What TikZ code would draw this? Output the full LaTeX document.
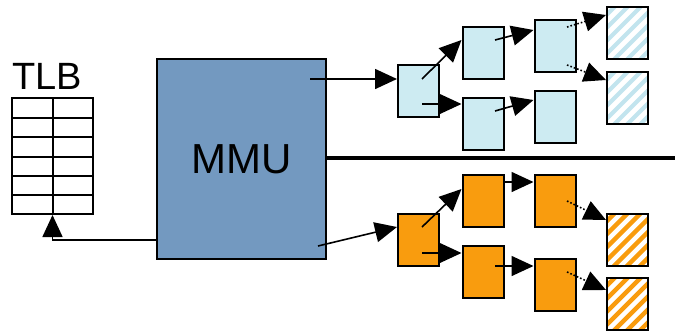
\documentclass[tikz,border=0pt]{standalone}
\usepackage{fontspec}
\setmainfont{Liberation Sans}
\usetikzlibrary{arrows.meta}
\definecolor{mmuc}{HTML}{7399C0}
\definecolor{lblue}{HTML}{CDEBF2}
\definecolor{hblue}{HTML}{C2E4EE}
\definecolor{orng}{HTML}{F99C0E}
\tikzset{
  box/.style={draw, line width=2pt, inner sep=0pt, minimum width=41pt, minimum height=52pt},
  bbox/.style={box, fill=lblue},
  obox/.style={box, fill=orng},
  hbbox/.style={box, fill=white, path picture={\foreach \i in {-78,-65,...,78} \draw[line width=4pt,hblue] ([shift={(\i-45,45)}]path picture bounding box.center) -- ++(90,-90);}},
  hobox/.style={box, fill=white, path picture={\foreach \i in {-78,-65,...,78} \draw[line width=4.5pt,orng] ([shift={(\i-45,45)}]path picture bounding box.center) -- ++(90,-90);}},
  arr/.style={line width=1.6pt, -{Triangle[length=22pt,width=20pt]}},
  darr/.style={line width=1.6pt, dotted, -{Triangle[length=22pt,width=20pt,sep=0pt]}},
}
\begin{document}
\begin{tikzpicture}[x=1pt,y=-1pt]
\useasboundingbox (0,0) rectangle (675,330);
% MMU
\node[draw, line width=2pt, fill=mmuc, minimum width=169pt, minimum height=200pt, inner sep=0pt, font=\fontsize{42}{44}\selectfont] (MMU) at (241.5,159) {MMU};
% TLB
\node[font=\fontsize{38}{40}\selectfont] (tlbl) at (47,76) {TLB};
\node[draw, line width=2pt, minimum width=81pt, minimum height=116pt, inner sep=0pt] (TLB) at (52.5,156) {};
\foreach \yy in {118,137,157,176,195} \draw[line width=2pt] (12,\yy) -- (93,\yy);
\draw[line width=2pt] (TLB.north) -- (TLB.south);
% divider
\coordinate (divend) at (675,158);
\draw[line width=3.2pt] (MMU.east |- divend) -- (divend);
% top boxes
\node[bbox] (A) at (418.5,91) {};
\node[bbox] (B1) at (483,53) {};
\node[bbox] (B2) at (483,123.5) {};
\node[bbox] (C1) at (555,46) {};
\node[bbox] (C2) at (555,117) {};
\node[hbbox] (D1) at (627.5,33) {};
\node[hbbox] (D2) at (627.5,98) {};
% bottom boxes
\node[obox] (Ao) at (418.5,239.5) {};
\node[obox] (B1o) at (483,201) {};
\node[obox] (B2o) at (483,272) {};
\node[obox] (C1o) at (555,201) {};
\node[obox] (C2o) at (555,285) {};
\node[hobox] (D1o) at (627.5,239.5) {};
\node[hobox] (D2o) at (627.5,304) {};
% start points
\coordinate (m1) at (310,79);
\coordinate (m2) at (318,246);
\coordinate (a1) at (422,79);
\coordinate (a2) at (422,104);
\coordinate (b1) at (495,40);
\coordinate (b2) at (495,111);
\coordinate (c1) at (567,27);
\coordinate (c2) at (567,65);
\coordinate (ao1) at (422,227);
\coordinate (ao2) at (422,253);
\coordinate (bo2) at (495,266);
\coordinate (co1) at (567,201);
\coordinate (co2) at (567,272);
% top arrows
\draw[arr] (m1) -- ([yshift=12pt]A.west);
\draw[arr] (a1) -- ([yshift=13pt]B1.west);
\draw[arr] (a2) -- ([yshift=19.5pt]B2.west);
\draw[arr] (b1) -- ([yshift=16pt]C1.west);
\draw[arr] (b2) -- ([yshift=17pt]C2.west);
\draw[darr] (c1) -- ([yshift=18pt]D1.west);
\draw[darr] (c2) -- ([yshift=18pt]D2.west);
% bottom arrows
\draw[arr] (m2) -- ([yshift=12.5pt]Ao.west);
\draw[arr] (ao1) -- ([yshift=12pt]B1o.west);
\draw[arr] (ao2) -- ([yshift=19pt]B2o.west);
\draw[arr] ([yshift=19pt]B1o.east) -- ([yshift=19pt]C1o.west);
\draw[arr] (bo2) -- ([yshift=19pt]C2o.west);
\draw[darr] (co1) -- ([yshift=19.5pt]D1o.west);
\draw[darr] (co2) -- ([yshift=14pt]D2o.west);
% TLB arrow
\draw[arr] ([yshift=-81pt]MMU.west) -| (TLB.south);
\end{tikzpicture}
\end{document}
